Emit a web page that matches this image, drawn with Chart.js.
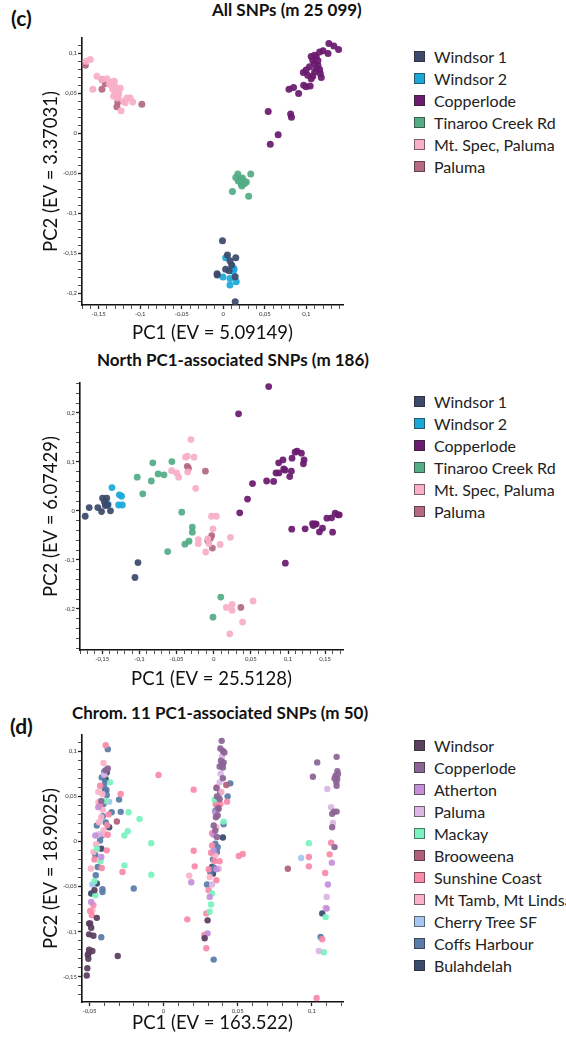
<!DOCTYPE html>
<html>
<head>
<meta charset="utf-8">
<script src="https://cdn.jsdelivr.net/npm/chart.js@4.4.1/dist/chart.umd.min.js"></script>
<style>
  body { margin: 0; background: #fff; font-family: Lato, "Open Sans", sans-serif; }
  #page { position: relative; width: 566px; height: 1039px; overflow: hidden; }
  canvas { position: absolute; left: 0; }
  .ttl { position: absolute; font-weight: bold; font-size: 17px; color: #111; white-space: nowrap; }
  .tag { position: absolute; font-weight: bold; font-size: 21px; color: #111; }
  .legend { position: absolute; left: 414px; }
  .legend div { position: relative; height: 22px; line-height: 22px; font-size: 16px; color: #222; white-space: nowrap; padding-left: 20px; }
  .legend span { position: absolute; left: 0; top: 5px; width: 11px; height: 11px; box-sizing: border-box; border: 1px solid rgba(40,40,40,0.6); }
</style>
</head>
<body>
<div id="page">
  <div class="tag" style="left:11px;top:5px">(c)</div>
  <div class="ttl" style="left:212px;top:-1px">All SNPs (m 25 099)</div>
  <canvas id="c1" width="400" height="345" style="top:0"></canvas>
  <div class="legend" id="leg1" style="top:46px"></div>

  <div class="ttl" style="left:97px;top:349px">North PC1-associated SNPs (m 186)</div>
  <canvas id="c2" width="400" height="345" style="top:345px"></canvas>
  <div class="legend" id="leg2" style="top:391px"></div>

  <div class="tag" style="left:10px;top:713px">(d)</div>
  <div class="ttl" style="left:72px;top:702px">Chrom. 11 PC1-associated SNPs (m 50)</div>
  <canvas id="c3" width="400" height="349" style="top:690px"></canvas>
  <div class="legend" id="leg3" style="top:735px"></div>
</div>
<script>
// ---- panel (c) top: All SNPs ----
const names1 = ['Windsor 1', 'Windsor 2', 'Copperlode', 'Tinaroo Creek Rd', 'Mt. Spec, Paluma', 'Paluma'];
const colors1 = ['#3d4a6b', '#1ba8d8', '#6a1b6e', '#52ad85', '#f9afc9', '#b56a82'];

const allWindsor1 = [[-0.001,-0.1346],[0.005,-0.1525],[0.015,-0.156],[0.008,-0.1596],[0.010,-0.165],[0.0028,-0.1704],[0.007,-0.172],[-0.0073,-0.1775],[-0.0075,-0.176],[0.0143,-0.1796],[0.0143,-0.211]];
const allWindsor2 = [[0.0028,-0.156],[0.011,-0.167],[0.012,-0.173],[-0.0004,-0.180],[0.008,-0.1817],[0.0155,-0.186],[0.008,-0.190],[0.013,-0.170]];
const allCopperlode = [[0.054,0.027],[0.066,-0.002],[0.0565,-0.014],[0.081,0.024],[0.082,0.020],[0.079,0.055],[0.0845,0.057],[0.0906,0.0496],[0.0967,0.060],[0.0996,0.058],[0.1045,0.059],[0.0963,0.0759],[0.0996,0.079],[0.1016,0.0725],[0.1057,0.068],[0.1077,0.071],[0.1098,0.0766],[0.1118,0.081],[0.1159,0.0796],[0.1179,0.0696],[0.1098,0.087],[0.1057,0.096],[0.1098,0.0975],[0.1138,0.091],[0.1159,0.1016],[0.120,0.103],[0.126,0.0996],[0.127,0.112],[0.133,0.109],[0.1387,0.1046],[0.1118,0.0955],[0.1077,0.091],[0.1138,0.085],[0.1037,0.083],[0.1167,0.0746]];
const allTinaroo = [[0.0175,-0.051],[0.033,-0.051],[0.015,-0.0554],[0.0203,-0.058],[0.0244,-0.0596],[0.0216,-0.064],[0.0256,-0.063],[0.0224,-0.066],[0.0277,-0.061],[0.011,-0.073],[0.0305,-0.079],[0.018,-0.060],[0.023,-0.056]];
const allMtSpec = [[-0.165,0.090],[-0.160,0.092],[-0.152,0.071],[-0.157,0.055],[-0.146,0.067],[-0.140,0.068],[-0.134,0.064],[-0.131,0.065],[-0.135,0.060],[-0.130,0.058],[-0.128,0.056],[-0.133,0.055],[-0.126,0.052],[-0.130,0.050],[-0.124,0.056],[-0.132,0.046],[-0.127,0.044],[-0.120,0.040],[-0.116,0.044],[-0.112,0.044],[-0.109,0.039],[-0.118,0.038],[-0.123,0.028],[-0.126,0.048],[-0.137,0.062]];
const allPaluma = [[-0.166,0.085],[-0.146,0.067],[-0.142,0.062],[-0.146,0.055],[-0.128,0.048],[-0.127,0.039],[-0.128,0.033],[-0.098,0.036]];

// ---- panel (c) bottom: North PC1-associated SNPs ----
const northWindsor1 = [[-0.173,-0.011],[-0.1676,0.0068],[-0.156,0.0068],[-0.151,-0.0014],[-0.1496,0.026],[-0.144,0.026],[-0.147,0.0177],[-0.1428,0.012],[-0.139,0.0],[-0.146,0.011],[-0.102,-0.1055],[-0.106,-0.136]];
const northWindsor2 = [[-0.137,0.0475],[-0.127,0.0327],[-0.124,0.030],[-0.128,0.012],[-0.123,0.012],[-0.142,0.013],[-0.146,0.020]];
const northCopperlode = [[0.074,0.2537],[0.0334,0.198],[0.035,-0.004],[0.0455,0.024],[0.0522,0.0557],[0.0712,0.061],[0.0806,0.060],[0.0838,0.0775],[0.0878,0.0775],[0.0874,0.098],[0.0932,0.104],[0.0942,0.0857],[0.096,0.083],[0.1023,0.070],[0.1045,0.081],[0.1054,0.1075],[0.1095,0.1197],[0.1122,0.1218],[0.118,0.1177],[0.1216,0.104],[0.1207,0.096],[0.0964,-0.1068],[0.105,-0.0374],[0.123,-0.0367],[0.134,-0.030],[0.1365,-0.0265],[0.138,-0.027],[0.1423,-0.0429],[0.1464,-0.0354],[0.1523,-0.015],[0.1586,-0.0143],[0.160,-0.0435],[0.1635,-0.0048],[0.167,-0.008],[0.169,-0.008],[0.133,-0.026]];
const northTinaroo = [[-0.103,0.0687],[-0.0955,0.0347],[-0.084,0.061],[-0.082,0.098],[-0.0748,0.0755],[-0.067,0.0735],[-0.0563,0.1006],[-0.043,-0.0027],[-0.0288,-0.033],[-0.0288,-0.0435],[-0.0333,-0.062],[-0.0388,-0.068],[-0.062,-0.083],[0.0095,-0.176],[-0.001,-0.217]];
const northMtSpec = [[-0.0307,0.1455],[-0.038,0.1095],[-0.0356,0.1115],[-0.0266,0.1095],[-0.0568,0.082],[-0.050,0.0775],[-0.0473,0.0687],[-0.035,0.0795],[-0.0243,0.046],[-0.003,-0.011],[0.0036,-0.011],[-0.001,-0.0367],[-0.0207,-0.0585],[-0.0207,-0.067],[-0.0108,-0.084],[-0.0063,-0.067],[0.0086,-0.0687],[0.0225,-0.054],[0.017,-0.197],[0.0248,-0.191],[0.0248,-0.203],[0.0216,-0.251],[0.0388,-0.227],[0.053,-0.184],[-0.008,-0.057]];
const northPaluma = [[-0.0356,0.091],[-0.034,0.087],[-0.0112,0.081],[-0.0027,-0.0504],[-0.0045,-0.056],[-0.008,-0.061],[-0.0018,-0.076],[0.0365,-0.197]];

// ---- panel (d): Chrom. 11 PC1-associated SNPs ----
const names3 = ['Windsor', 'Copperlode', 'Atherton', 'Paluma', 'Mackay', 'Brooweena', 'Sunshine Coast', 'Mt Tamb, Mt Lindsay', 'Cherry Tree SF', 'Coffs Harbour', 'Bulahdelah'];
const colors3 = ['#5b3f5e', '#8c6496', '#c590d8', '#dbb6e4', '#7af2c0', '#b0607c', '#f98aa8', '#fbb2c8', '#a6c6ef', '#5a7ca8', '#3a4a6a'];

const chrWindsor = [[-0.0466,-0.054],[-0.045,-0.0847],[-0.0502,-0.0909],[-0.0488,-0.0957],[-0.0502,-0.103],[-0.0473,-0.1045],[-0.0502,-0.120],[-0.048,-0.1214],[-0.0511,-0.1258],[-0.0507,-0.130],[-0.0309,-0.127],[-0.0514,-0.1405],[-0.0518,-0.1487],[-0.0505,-0.124],[-0.0495,-0.091],[0.0297,-0.0875],[0.0277,-0.1074]];
const chrCopperlode = [[0.0392,0.1115],[0.0383,0.103],[0.040,0.1004],[0.041,0.0986],[0.0387,0.0894],[0.0405,0.0876],[0.0378,0.0831],[0.040,0.082],[0.0395,0.085],[0.040,0.070],[0.0356,0.0593],[0.036,0.050],[0.0378,0.047],[0.0365,0.0287],[0.0353,0.0268],[0.0338,0.0177],[0.0349,0.0121],[0.037,0.036],[0.036,0.005],[0.1036,0.0876],[0.1007,0.0717],[0.1167,0.0938],[0.116,0.0728],[0.1171,0.0692],[0.1153,0.0699],[0.1167,0.0618],[0.1176,0.0747],[0.1149,0.0331],[0.1137,0.0306],[0.1167,0.0331],[0.1137,0.0158],[0.1153,-0.0063],[0.1172,0.078],[0.1165,0.066],[-0.0376,0.081],[-0.039,0.079],[-0.042,0.045]];
const chrAtherton = [[-0.046,0.0066],[-0.042,-0.0173],[-0.0488,-0.067],[-0.044,0.038],[0.0338,0.0074],[0.0356,-0.0309],[0.0338,-0.0099],[0.0311,-0.0615],[0.0297,-0.1019],[0.0349,0.032],[0.1135,-0.0235],[0.1108,-0.0478],[0.110,-0.0743],[0.0187,-0.0452]];
const chrPaluma = [[0.0394,0.0942],[0.0378,0.0655],[0.0372,-0.0302],[0.0327,-0.0478],[0.0385,0.075],[0.1104,0.0582],[0.113,0.0379],[0.1142,0.0206],[0.110,-0.0615],[0.1093,-0.0736],[0.1047,-0.1214],[-0.040,0.074],[-0.0435,0.008]];
const chrMackay = [[-0.036,0.0655],[-0.0236,0.0324],[-0.0162,0.025],[-0.0241,0.0114],[-0.0264,0.0066],[-0.045,-0.008],[-0.0083,-0.0019],[-0.0466,-0.0441],[-0.0264,-0.0265],[-0.0083,-0.0368],[-0.046,-0.0596],[-0.039,0.045],[-0.0425,-0.022],[0.0345,0.0464],[0.0405,0.022],[0.0327,-0.0577],[0.032,-0.0699],[0.0311,-0.078],[0.098,-0.0019],[0.1093,-0.0839],[0.1081,-0.1229]];
const chrBrooweena = [[-0.0315,0.0221],[0.0423,0.0626],[0.037,0.037],[0.0838,-0.0302]];
const chrSunshine = [[-0.039,0.1067],[-0.0428,0.0618],[-0.0289,0.0526],[-0.0376,0.0074],[-0.0383,-0.0099],[-0.0466,-0.0199],[-0.0417,-0.0294],[-0.0277,-0.0339],[-0.0473,-0.0706],[-0.0484,-0.0817],[-0.0034,0.0736],[-0.038,0.018],[-0.037,0.030],[-0.043,0.040],[-0.0495,-0.077],[0.0203,0.0574],[0.0203,-0.0103],[0.021,-0.0276],[0.016,-0.0864],[0.0351,0.0416],[0.0383,0.0416],[0.0428,0.0441],[0.0327,0.0092],[0.0327,-0.0044],[0.032,-0.0125],[0.0378,-0.022],[0.0342,-0.022],[0.0304,-0.0309],[0.0356,-0.043],[0.0304,-0.054],[0.0288,-0.0798],[0.0275,-0.1037],[0.0288,-0.1184],[0.0507,-0.0162],[0.0534,-0.014],[0.036,0.060],[0.098,-0.0173],[0.098,-0.0276],[0.113,-0.0015],[0.112,-0.0143],[0.109,-0.035],[0.107,-0.1085],[0.1032,-0.1736]];
const chrMtTamb = [[-0.0405,0.0869],[-0.0412,0.0526],[-0.0439,0.0434],[-0.042,0.0268],[-0.0435,0.0213],[-0.0405,0.0121],[-0.0473,-0.0118],[-0.048,-0.0762],[-0.0395,0.008],[-0.041,0.035],[-0.044,0.055],[-0.0455,-0.003],[-0.049,-0.030],[0.0356,0.0158],[0.0349,-0.0155],[0.0311,-0.0394],[0.039,0.055],[0.0173,-0.0379]];
const chrCherryTree = [[-0.0367,0.0441],[-0.048,-0.0478],[0.0928,-0.0184]];
const chrCoffs = [[-0.0376,0.1023],[-0.040,0.0773],[-0.0417,0.071],[-0.040,0.060],[-0.0383,0.0515],[-0.030,0.0464],[-0.0405,0.0416],[-0.035,0.0324],[-0.0289,0.0328],[-0.045,0.0177],[-0.0417,0.0066],[-0.0428,0.001],[-0.0444,-0.0284],[-0.0457,-0.0375],[-0.0201,-0.0522],[-0.0412,-0.053],[-0.0412,-0.056],[-0.042,-0.1063],[-0.0395,0.066],[-0.0385,0.057],[-0.041,0.028],[-0.039,0.021],[-0.046,-0.015],[0.045,0.0644],[0.0432,0.050],[0.0349,0.0339],[0.0405,0.019],[0.0349,-0.0025],[0.0365,-0.0063],[0.036,-0.0118],[0.0333,-0.0199],[0.0342,-0.0294],[0.0315,-0.0339],[0.0293,-0.0478],[0.0338,-0.131],[0.036,0.040],[0.1059,-0.106]];
const chrBulahdelah = [[-0.0383,0.0765],[-0.039,0.069],[-0.0394,0.0563],[-0.0367,0.0158],[-0.045,-0.0467],[-0.0488,-0.0577],[-0.042,-0.008],[0.0383,0.0544],[0.040,0.0044],[0.0327,-0.0284],[0.0333,-0.0357],[0.107,-0.0798]];

const font = 'Lato, "Open Sans", sans-serif';

function fmtTick(v, major) {
  const r = Math.round(v / major);
  if (Math.abs(v - r * major) > 1e-7) return '';
  const val = r * major;
  if (Math.abs(val) < 1e-9) return '0';
  return val.toFixed(2).replace(/0$/, '').replace('.', ',');
}

function axis(min, max, step, major, extra) {
  return Object.assign({
    type: 'linear', min, max,
    grid: {
      drawOnChartArea: false, drawTicks: true, tickLength: 4, tickColor: '#222',
      tickWidth: c => (Math.abs(c.tick.value / major - Math.round(c.tick.value / major)) < 1e-6 ? 1.3 : 0.8)
    },
    border: { display: true, color: '#111', width: 1.6 },
    ticks: {
      stepSize: step, includeBounds: false, autoSkip: false, maxRotation: 0, padding: 1,
      color: '#333', font: { family: font, size: 6 },
      callback: v => fmtTick(v, major)
    }
  }, extra);
}

function makeChart(id, names, colors, series, cfg) {
  const datasets = series.map((pts, i) => ({
    label: names[i],
    data: pts.map(p => ({ x: p[0], y: p[1] })),
    backgroundColor: colors[i] + 'ee',
    borderWidth: 0,
    pointRadius: cfg.radius,
    pointHoverRadius: cfg.radius
  }));
  const x = axis(cfg.xMin, cfg.xMax, cfg.xStep, cfg.xMajor, {
    afterFit: s => { s.height = cfg.xHeight; },
    title: { display: true, text: cfg.xTitle, color: '#111', font: { family: font, size: 18.5 }, padding: { top: 0, bottom: cfg.xTitlePad } }
  });
  const y = axis(cfg.yMin, cfg.yMax, cfg.yStep, cfg.yMajor, {
    afterFit: s => { s.width = cfg.yWidth; },
    title: { display: true, text: cfg.yTitle, color: '#111', font: { family: font, size: 18.5 }, padding: { top: 40, bottom: 0 } }
  });
  return new Chart(document.getElementById(id), {
    type: 'scatter',
    data: { datasets },
    options: {
      responsive: false, animation: false, devicePixelRatio: 1,
      layout: { padding: { left: 0, top: cfg.top, right: cfg.right, bottom: 0 } },
      scales: { x, y },
      plugins: { legend: { display: false }, tooltip: { enabled: false } }
    }
  });
}

function makeLegend(id, names, colors) {
  document.getElementById(id).innerHTML = names.map((n, i) =>
    `<div><span style="background:${colors[i]}"></span>${n}</div>`).join('');
}

makeChart('c1', names1, colors1,
  [allWindsor1, allWindsor2, allCopperlode, allTinaroo, allMtSpec, allPaluma], {
    radius: 3.5, top: 38, right: 57, xHeight: 40, yWidth: 82, xTitlePad: 1,
    xMin: -0.17, xMax: 0.144, xStep: 0.01, xMajor: 0.05,
    yMin: -0.215, yMax: 0.119, yStep: 0.01, yMajor: 0.05,
    xTitle: 'PC1 (EV = 5.09149)', yTitle: 'PC2 (EV = 3.37031)'
  });
makeLegend('leg1', names1, colors1);

makeChart('c2', names1, colors1,
  [northWindsor1, northWindsor2, northCopperlode, northTinaroo, northMtSpec, northPaluma], {
    radius: 3.4, top: 38, right: 57, xHeight: 40, yWidth: 80, xTitlePad: 0,
    xMin: -0.18, xMax: 0.174, xStep: 0.01, xMajor: 0.05,
    yMin: -0.284, yMax: 0.261, yStep: 0.02, yMajor: 0.1,
    xTitle: 'PC1 (EV = 25.5128)', yTitle: 'PC2 (EV = 6.07429)'
  });
makeLegend('leg2', names1, colors1);

makeChart('c3', names3, colors3,
  [chrWindsor, chrCopperlode, chrAtherton, chrPaluma, chrMackay, chrBrooweena, chrSunshine, chrMtTamb, chrCherryTree, chrCoffs, chrBulahdelah], {
    radius: 3.2, top: 45, right: 57, xHeight: 37, yWidth: 82, xTitlePad: 5,
    xMin: -0.055, xMax: 0.121, xStep: 0.01, xMajor: 0.05,
    yMin: -0.178, yMax: 0.118, yStep: 0.01, yMajor: 0.05,
    xTitle: 'PC1 (EV = 163.522)', yTitle: 'PC2 (EV = 18.9025)'
  });
makeLegend('leg3', names3, colors3);
</script>
</body>
</html>
